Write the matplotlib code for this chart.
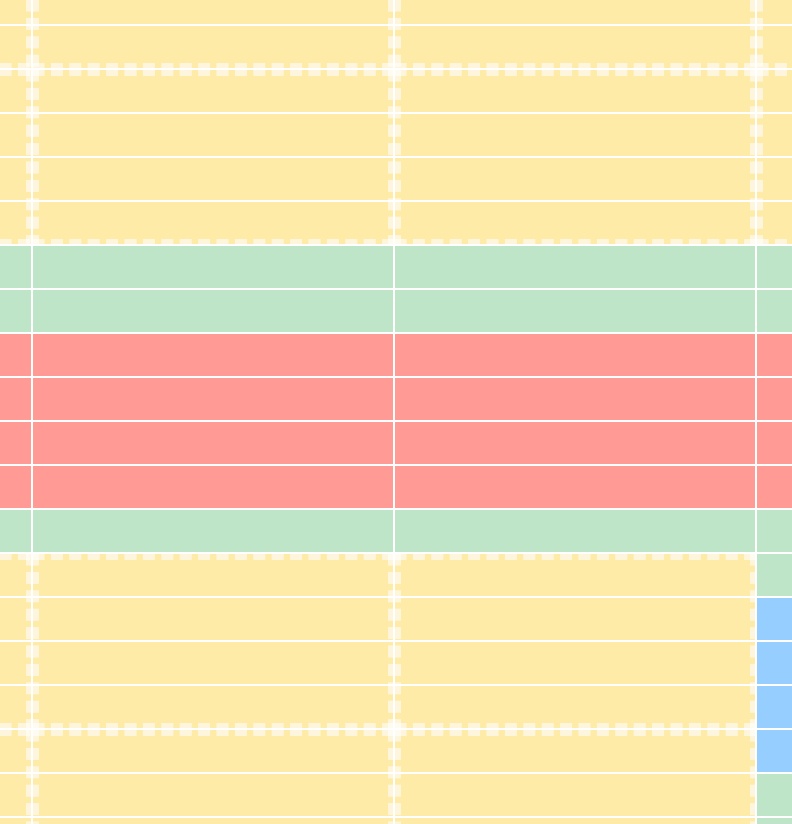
import matplotlib
matplotlib.use('Agg')
import matplotlib.pyplot as plt
from matplotlib.colors import ListedColormap
from matplotlib.patches import Rectangle
from matplotlib.lines import Line2D
import numpy as np

plt.rcParams['lines.scale_dashes'] = False

# cell status per row, columns left-to-right (Y=yellow, G=green, R=red, B=blue)
cell_rows = [
    'YYYY', 'YYYY',
    'YYYY', 'YYYY', 'YYYY', 'YYYY',
    'GGGG', 'GGGG',
    'RRRR', 'RRRR', 'RRRR', 'RRRR',
    'GGGG',
    'YYYG', 'YYYB', 'YYYB', 'YYYB',
    'YYYB', 'YYYG', 'YYYG',
]
status_keys = ['Y', 'G', 'R', 'B']
status_colors = ['#FEEBA8', '#BFE5C9', '#FF9B94', '#96CFFF']

# merged yellow blocks (first row, last row + 1), rows counted from the top
yellow_blocks = [(-2, 2), (2, 6), (13, 17), (17, 21)]

CELL_W, CELL_H = 362, 44
X0, Y0 = -330, -19.5

n_rows, n_cols = len(cell_rows), len(cell_rows[0])
col_edges = X0 + CELL_W * np.arange(n_cols + 1)
row_edges = Y0 + CELL_H * np.arange(n_rows + 1)
grid = np.array([[status_keys.index(c) for c in r] for r in cell_rows])

fig = plt.figure(figsize=(7.92, 8.24), dpi=100)
ax = fig.add_axes([0, 0, 1, 1])
ax.set_xlim(0, 792)
ax.set_ylim(824, 0)
ax.axis('off')

ax.pcolormesh(col_edges, row_edges, grid, cmap=ListedColormap(status_colors),
              vmin=-0.5, vmax=len(status_keys) - 0.5, zorder=1)

px = 0.72  # points per pixel at dpi 100
for r0, r1 in yellow_blocks:
    for c in range(n_cols):
        rows = [cell_rows[r][c] for r in range(max(r0, 0), min(r1, n_rows))]
        if not rows or any(s != 'Y' for s in rows):
            continue
        x0, x1 = X0 + CELL_W * c, X0 + CELL_W * (c + 1)
        y0, y1 = Y0 + CELL_H * r0, Y0 + CELL_H * r1
        clip = Rectangle((x0, y0), x1 - x0, y1 - y0, transform=ax.transData)
        for xs, ys in [([x0, x1], [y0, y0]), ([x0, x1], [y1, y1]),
                       ([x0, x0], [y0, y1]), ([x1, x1], [y0, y1])]:
            ln = Line2D(xs, ys, color='white', alpha=0.6, linewidth=13 * px,
                        dash_capstyle='butt', zorder=2)
            ln.set_dashes([12 * px, 6.4 * px])
            ax.add_line(ln)
            ln.set_clip_path(clip)

ax.hlines(row_edges, 0, 792, colors='white', linewidth=2 * px, zorder=3)
ax.vlines(col_edges, 0, 824, colors='white', linewidth=2 * px, zorder=3)

fig.savefig('out.png', dpi=100)
